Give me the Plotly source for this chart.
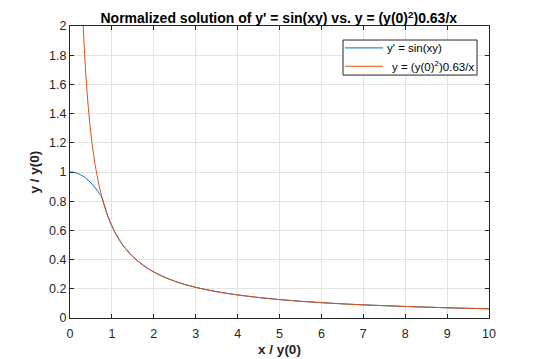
import plotly.graph_objects as go

# Blue: numerical solution of y' = sin(xy), normalized
blue_x = [0, 0.1, 0.2, 0.3, 0.4, 0.5, 0.6, 0.7, 0.76, 0.8, 0.9, 1.0, 1.2, 1.5, 2.0, 2.5, 3.0, 4.0, 5.0, 6.0, 7.0, 8.0, 9.0, 10.0]
blue_y = [1.0, 0.997, 0.988, 0.973, 0.952, 0.925, 0.892, 0.853, 0.828, 0.79, 0.70, 0.63, 0.525, 0.42, 0.315, 0.252, 0.21, 0.158, 0.126, 0.105, 0.09, 0.079, 0.07, 0.063]

# Orange: y = (y(0)^2) 0.63 / x
orange_x = [0.315, 0.35, 0.4, 0.45, 0.5, 0.55, 0.6, 0.7, 0.8, 0.9, 1.0, 1.1, 1.2, 1.35, 1.5, 1.75, 2.0, 2.5, 3.0, 3.5, 4.0, 5.0, 6.0, 7.0, 8.0, 9.0, 10.0]
orange_y = [2.0, 1.8, 1.575, 1.4, 1.26, 1.145, 1.05, 0.9, 0.788, 0.70, 0.63, 0.573, 0.525, 0.467, 0.42, 0.36, 0.315, 0.252, 0.21, 0.18, 0.158, 0.126, 0.105, 0.09, 0.079, 0.07, 0.063]

series_names = ["y' = sin(xy)", "y = (y(0)<sup>2</sup>)0.63/x"]
series_colors = ["#0072BD", "#D95319"]

x_ticks = [0, 1, 2, 3, 4, 5, 6, 7, 8, 9, 10]
y_ticks = [0, 0.2, 0.4, 0.6, 0.8, 1, 1.2, 1.4, 1.6, 1.8, 2]
y_tick_labels = ["0", "0.2", "0.4", "0.6", "0.8", "1", "1.2", "1.4", "1.6", "1.8", "2"]

FONT = "Liberation Sans, Arial, sans-serif"

fig = go.Figure()
fig.add_trace(go.Scatter(x=blue_x, y=blue_y, mode="lines", name=series_names[0],
                         line=dict(color=series_colors[0], width=1, shape="spline")))
fig.add_trace(go.Scatter(x=orange_x, y=orange_y, mode="lines", name=series_names[1],
                         line=dict(color=series_colors[1], width=1, shape="spline")))

axis_common = dict(
    showgrid=True, gridcolor="#e3e3e3", gridwidth=1,
    showline=True, linecolor="#262626", linewidth=1, mirror="allticks",
    ticks="inside", ticklen=4, tickcolor="#262626",
    tickfont=dict(family=FONT, size=12.5, color="#262626"),
    zeroline=False, automargin=False,
)

# MATLAB-style legend box (drawn in plot-area paper coordinates)
leg_x0, leg_x1, leg_y0, leg_y1 = 0.6516, 0.9714, 0.832, 0.952
row_y = [0.925, 0.862]
sample_x0, sample_x1 = 0.6563, 0.7470
text_x = [0.7518, 0.7637]

shapes = [dict(type="rect", xref="paper", yref="paper", x0=leg_x0, x1=leg_x1, y0=leg_y0, y1=leg_y1,
               line=dict(color="#262626", width=1), fillcolor="white", layer="above")]
annotations = []
for i in range(2):
    shapes.append(dict(type="line", xref="paper", yref="paper", x0=sample_x0, x1=sample_x1,
                       y0=row_y[i], y1=row_y[i], line=dict(color=series_colors[i], width=1), layer="above"))
    annotations.append(dict(text=series_names[i], xref="paper", yref="paper", x=text_x[i], y=row_y[i],
                            xanchor="left", yanchor="middle", showarrow=False,
                            font=dict(family=FONT, size=11.5, color="black")))

# The page body has an 8px default margin, so the figure is sized to compensate.
fig.update_layout(
    width=532, height=351,
    margin=dict(l=62, r=51, t=18, b=41),
    paper_bgcolor="white", plot_bgcolor="white",
    title=dict(text="<b>Normalized solution of y' = sin(xy) vs. y = (y(0)<sup>2</sup>)0.63/x</b>",
               x=0.509, xanchor="center", y=0.97, yanchor="middle",
               font=dict(family=FONT, size=14, color="black")),
    xaxis=dict(range=[0, 10], tickvals=x_ticks, ticklabelstandoff=4,
               title=dict(text="<b>x / y(0)</b>", standoff=4,
                          font=dict(family=FONT, size=13.5, color="#262626")),
               **axis_common),
    yaxis=dict(range=[0, 2], tickvals=y_ticks, ticktext=y_tick_labels,
               title=dict(text="<b>y / y(0)</b>", standoff=6,
                          font=dict(family=FONT, size=13.5, color="#262626")),
               **axis_common),
    shapes=shapes,
    annotations=annotations,
    showlegend=False,
)

fig.write_html("out.html")
